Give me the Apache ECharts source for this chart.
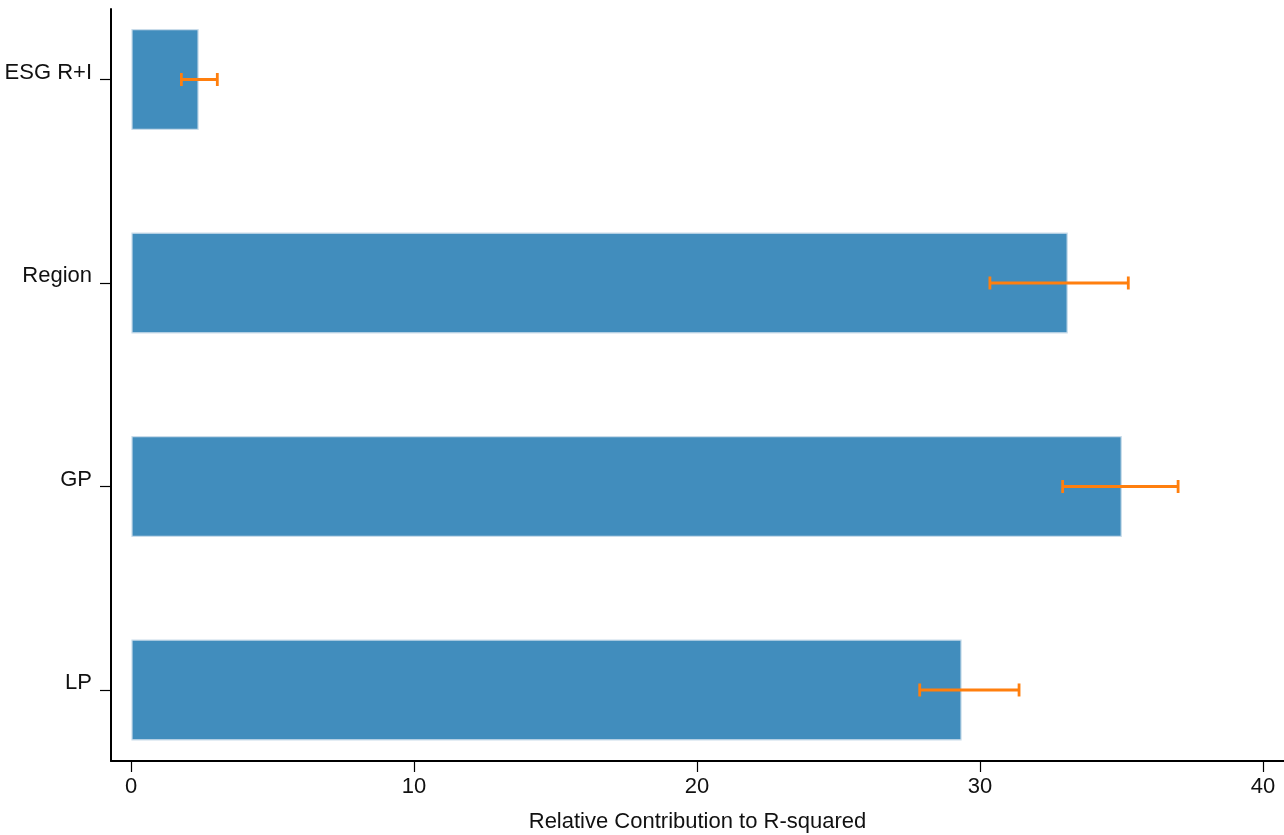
<!DOCTYPE html>
<html>
<head>
<meta charset="utf-8">
<script src="https://cdn.jsdelivr.net/npm/echarts@6/dist/echarts.min.js"></script>
<style>
  html, body { margin: 0; padding: 0; background: #fff; }
  #chart { width: 1284px; height: 835px; }
</style>
</head>
<body>
<div id="chart"></div>
<script>
// Predictors, top to bottom
const categories = ['ESG R+I', 'Region', 'GP', 'LP'];
// Relative contribution to R-squared (%)
const contribution = [2.37, 33.08, 34.99, 29.33];
// Confidence interval bounds
const ciLower = [1.78, 30.35, 32.92, 27.87];
const ciUpper = [3.05, 35.24, 37.00, 31.38];
// Tick values on the x axis
const xTicks = [0, 10, 20, 30, 40];

const FONT = '"Liberation Sans", Arial, sans-serif';
const BAR_BAND = 0.49;

const barData = contribution.map((v, i) => [v, i]);
const errData = ciLower.map((lo, i) => [lo, ciUpper[i], i]);

const chart = echarts.init(document.getElementById('chart'));
chart.setOption({
  backgroundColor: '#ffffff',
  animation: false,
  grid: { left: 111, right: 0, top: 9, bottom: 74, outerBoundsMode: 'none', containLabel: false },
  xAxis: {
    type: 'value',
    min: -0.7067,
    max: 40.742,
    name: 'Relative Contribution to R-squared',
    nameLocation: 'middle',
    nameGap: 50,
    nameTextStyle: { fontFamily: FONT, fontSize: 22, color: '#111' },
    splitLine: { show: false },
    axisLine: { show: true, onZero: false, lineStyle: { color: '#000', width: 2 } },
    axisTick: { show: true, customValues: xTicks, length: 11, lineStyle: { color: '#000', width: 1.2 } },
    axisLabel: { customValues: xTicks, margin: 15, fontFamily: FONT, fontSize: 22, color: '#111' }
  },
  yAxis: {
    type: 'value',
    inverse: true,
    min: -0.3464,
    max: 3.349,
    splitLine: { show: false },
    axisLine: { show: true, onZero: false, lineStyle: { color: '#000', width: 2 } },
    axisTick: { show: true, inside: false, length: 11, customValues: categories.map((c, i) => i), lineStyle: { color: '#000', width: 1.2 } },
    axisLabel: {
      customValues: categories.map((c, i) => i),
      formatter: v => categories[Math.round(v)],
      margin: 19,
      verticalAlign: 'bottom',
      lineHeight: 14,
      fontFamily: FONT, fontSize: 22, color: '#111'
    }
  },
  series: [
    {
      type: 'custom',
      data: barData,
      encode: { x: 0, y: 1 },
      renderItem: (params, api) => {
        const v = api.value(0), y = api.value(1);
        const p0 = api.coord([0, y]);
        const p1 = api.coord([v, y]);
        const h = api.size([0, BAR_BAND])[1];
        return {
          type: 'rect',
          shape: { x: p0[0] + 1, y: p0[1] - h / 2, width: p1[0] - p0[0] - 1, height: h },
          style: { fill: '#418dbd', stroke: '#c9dcea', lineWidth: 1.2 }
        };
      }
    },
    {
      type: 'custom',
      data: errData,
      encode: { x: [0, 1], y: 2 },
      z: 5,
      renderItem: (params, api) => {
        const lo = api.coord([api.value(0), api.value(2)]);
        const hi = api.coord([api.value(1), api.value(2)]);
        const cap = 6.5;
        const st = { stroke: '#ff7f0e', lineWidth: 2.8, fill: 'none' };
        return {
          type: 'group',
          children: [
            { type: 'line', shape: { x1: lo[0], y1: lo[1], x2: hi[0], y2: hi[1] }, style: st },
            { type: 'line', shape: { x1: lo[0], y1: lo[1] - cap, x2: lo[0], y2: lo[1] + cap }, style: st },
            { type: 'line', shape: { x1: hi[0], y1: hi[1] - cap, x2: hi[0], y2: hi[1] + cap }, style: st }
          ]
        };
      }
    }
  ]
});
</script>
</body>
</html>
